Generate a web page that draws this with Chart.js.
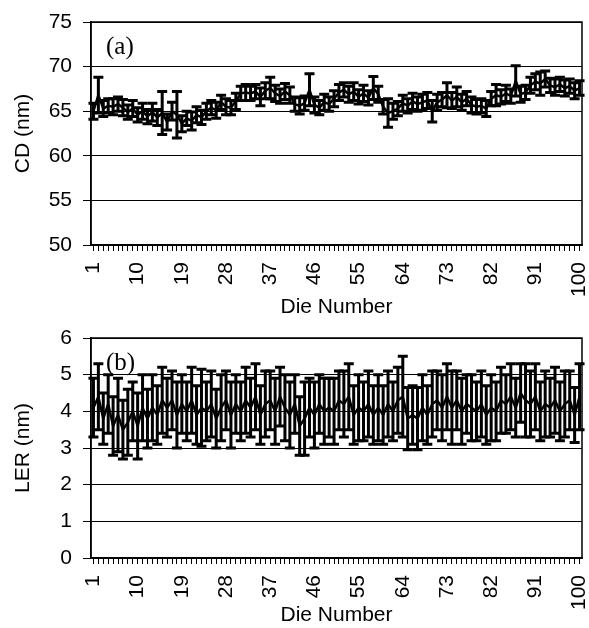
<!DOCTYPE html>
<html>
<head>
<meta charset="utf-8">
<script src="https://cdn.jsdelivr.net/npm/chart.js@4"></script>
<style>
  html, body { margin: 0; padding: 0; background: #fff; }
  #wrap { position: relative; width: 589px; height: 628px; }
  canvas { position: absolute; left: 0; }
</style>
</head>
<body>
<div id="wrap">
  <canvas id="cdChart" width="589" height="320" style="top:0"></canvas>
  <canvas id="lerChart" width="589" height="308" style="top:320px"></canvas>
</div>
<script>
// die numbers on the x axis, only every 9th one gets a label
var dies = Array.from({ length: 100 }, function (_, i) { return String(i + 1); });
var tickLabels = ['1', '10', '19', '28', '37', '46', '55', '64', '73', '82', '91', '100'];

// (a) CD mean and half error bar, nm
var cdMean = [
  65.0, 66.8, 65.3, 65.6, 65.5, 65.8, 65.4, 64.9, 65.3, 64.6,
  65.0, 64.4, 64.9, 64.3, 64.8, 63.8, 65.0, 64.6, 63.6, 64.2,
  63.9, 64.6, 64.3, 65.0, 65.4, 65.1, 66.0, 65.5, 65.4, 66.1,
  67.0, 67.1, 67.0, 67.2, 66.6, 67.3, 67.6, 67.0, 66.7, 67.2,
  66.8, 65.8, 65.6, 65.9, 67.4, 65.7, 65.4, 66.0, 65.8, 66.4,
  67.1, 67.4, 66.9, 67.2, 66.6, 67.0, 66.5, 67.6, 66.9, 65.5,
  64.8, 65.0, 65.3, 65.9, 65.6, 66.1, 65.8, 66.0, 66.2, 65.0,
  66.0, 66.3, 66.8, 66.2, 66.6, 66.0, 66.4, 65.7, 65.5, 65.6,
  65.3, 66.4, 66.8, 66.6, 67.0, 66.7, 68.4, 66.9, 67.1, 67.9,
  68.3, 68.1, 68.6, 67.9, 67.7, 68.0, 67.6, 67.8, 67.3, 67.6
];
var cdErr = [
  0.9, 2.0, 0.9, 0.8, 0.9, 0.8, 0.9, 0.8, 0.9, 0.8,
  0.9, 0.8, 1.0, 0.9, 2.4, 0.9, 1.0, 2.6, 0.9, 0.8,
  1.0, 0.9, 0.8, 0.9, 0.8, 0.9, 0.8, 0.9, 0.8, 0.9,
  0.8, 0.9, 0.8, 0.8, 1.0, 0.9, 1.2, 0.9, 0.8, 0.9,
  0.9, 0.8, 0.9, 0.8, 1.8, 0.9, 0.8, 0.9, 0.8, 0.9,
  0.9, 0.8, 0.9, 1.0, 0.8, 0.9, 0.8, 1.3, 0.9, 0.8,
  1.6, 0.9, 0.8, 0.9, 0.8, 0.9, 0.8, 0.9, 0.9, 1.2,
  0.9, 0.8, 1.4, 0.9, 1.1, 0.9, 0.8, 0.9, 0.8, 0.8,
  0.9, 0.8, 1.2, 0.8, 0.9, 0.8, 1.7, 0.9, 0.8, 0.9,
  0.9, 1.3, 0.9, 0.8, 0.9, 0.8, 0.9, 0.8, 0.9, 0.8
];

// (b) LER mean and half error bar, nm
var lerMean = [
  4.1, 4.4, 3.8, 4.2, 3.6, 3.9, 3.5, 3.7, 4.0, 3.6,
  4.1, 3.8, 4.1, 3.9, 4.3, 4.1, 4.3, 3.9, 4.2, 4.0,
  4.3, 3.9, 4.1, 4.0, 4.2, 3.8, 4.1, 4.3, 3.9, 4.2,
  4.0, 4.3, 4.1, 4.4, 3.9, 4.2, 4.3, 4.0, 4.4, 4.1,
  3.9, 4.2, 3.6, 3.8, 4.1, 3.9, 4.2, 4.0, 4.1, 4.0,
  4.3, 4.2, 4.4, 3.9, 4.1, 4.0, 4.2, 3.9, 4.1, 3.9,
  4.2, 4.0, 4.3, 4.4, 3.8, 3.9, 3.8, 4.1, 3.9, 4.2,
  4.3, 4.1, 4.4, 4.1, 4.3, 4.0, 4.2, 4.1, 4.0, 4.2,
  3.9, 4.1, 4.0, 4.3, 4.2, 4.4, 4.1, 4.5, 4.3, 4.2,
  4.4, 4.0, 4.2, 4.1, 4.3, 4.0, 4.2, 4.3, 3.9, 4.4
];
var lerErr = [
  0.8, 0.9, 0.7, 0.8, 0.8, 1.0, 0.8, 0.9, 0.8, 0.9,
  0.9, 0.8, 0.9, 0.8, 0.9, 0.8, 0.8, 0.9, 0.8, 0.8,
  0.9, 0.8, 1.05, 0.8, 0.9, 0.8, 0.9, 0.8, 0.9, 0.8,
  0.8, 0.9, 0.8, 0.9, 0.8, 0.9, 0.8, 0.9, 0.8, 0.9,
  0.9, 0.8, 0.8, 1.0, 0.8, 0.9, 0.8, 0.9, 0.8, 0.9,
  0.8, 0.9, 0.9, 0.8, 0.9, 0.8, 0.9, 0.8, 0.9, 0.8,
  0.9, 0.8, 0.9, 1.1, 0.85, 0.8, 0.85, 0.9, 0.8, 0.9,
  0.8, 0.9, 0.9, 1.0, 0.8, 0.9, 0.8, 0.9, 0.8, 0.9,
  0.8, 0.9, 0.8, 0.9, 0.8, 0.9, 0.8, 0.8, 1.0, 0.9,
  0.9, 0.8, 0.9, 0.8, 0.9, 0.8, 0.9, 0.8, 0.75, 0.9
];

var sans = 'Liberation Sans';

// error bars with caps, the plot frame and the (a)/(b) tag
var errorBars = {
  id: 'errorBars',
  afterDatasetsDraw: function (chart, args, opts) {
    var ctx = chart.ctx;
    var xs = chart.scales.x;
    var ys = chart.scales.y;
    var mean = chart.data.datasets[0].data;
    ctx.save();
    ctx.strokeStyle = '#000';
    ctx.lineWidth = 3;
    for (var i = 0; i < mean.length; i++) {
      var px = xs.getPixelForValue(i);
      var top = ys.getPixelForValue(mean[i] + opts.err[i]);
      var bot = ys.getPixelForValue(mean[i] - opts.err[i]);
      ctx.beginPath();
      ctx.moveTo(px, top); ctx.lineTo(px, bot);
      ctx.moveTo(px - 5, top); ctx.lineTo(px + 5, top);
      ctx.moveTo(px - 5, bot); ctx.lineTo(px + 5, bot);
      ctx.stroke();
    }
    var a = chart.chartArea;
    ctx.lineWidth = 1.5;
    ctx.strokeRect(a.left, a.top, a.right - a.left, a.bottom - a.top);
    ctx.fillStyle = '#000';
    ctx.font = '25px "Liberation Serif"';
    ctx.textBaseline = 'middle';
    ctx.fillText(opts.tag, a.left + 15, a.top + 25);
    ctx.restore();
  }
};

function makePanel(id, mean, err, yMin, yMax, yStep, yTitle, tag, padTop, xHeight) {
  return new Chart(document.getElementById(id), {
    type: 'line',
    data: {
      labels: dies,
      datasets: [{
        data: mean,
        borderColor: '#000',
        borderWidth: 2.5,
        pointRadius: 0,
        tension: 0
      }]
    },
    options: {
      responsive: false,
      animation: false,
      layout: { padding: { top: padTop, right: 7, left: 0, bottom: 0 } },
      plugins: {
        legend: { display: false },
        tooltip: { enabled: false },
        errorBars: { err: err, tag: tag }
      },
      scales: {
        x: {
          type: 'category',
          offset: true,
          afterFit: function (s) { s.height = xHeight; s.paddingLeft = 0; s.paddingRight = 0; },
          grid: { drawOnChartArea: false, color: '#000', lineWidth: 1, tickLength: 6 },
          border: { color: '#000', width: 1.5 },
          ticks: {
            autoSkip: false,
            minRotation: 90,
            maxRotation: 90,
            padding: 11,
            color: '#000',
            font: { family: sans, size: 21 },
            callback: function (v, i) {
              var lab = dies[i];
              return tickLabels.indexOf(lab) >= 0 ? lab : '';
            }
          },
          title: {
            display: true,
            text: 'Die Number',
            color: '#000',
            font: { family: sans, size: 21 },
            padding: { top: 0, bottom: 0 }
          }
        },
        y: {
          min: yMin,
          max: yMax,
          afterFit: function (s) { s.width = 91; s.paddingTop = 0; s.paddingBottom = 0; },
          grid: { color: '#000', lineWidth: 1, tickLength: 8 },
          border: { color: '#000', width: 1.5 },
          ticks: {
            stepSize: yStep,
            padding: 11,
            color: '#000',
            font: { family: sans, size: 21 }
          },
          title: {
            display: true,
            text: yTitle,
            color: '#000',
            font: { family: sans, size: 21 },
            padding: { top: 11, bottom: 0 }
          }
        }
      }
    },
    plugins: [errorBars]
  });
}

makePanel('cdChart', cdMean, cdErr, 50, 75, 5, 'CD (nm)', '(a)', 22, 75);
makePanel('lerChart', lerMean, lerErr, 0, 6, 1, 'LER (nm)', '(b)', 18, 70);
</script>
</body>
</html>
